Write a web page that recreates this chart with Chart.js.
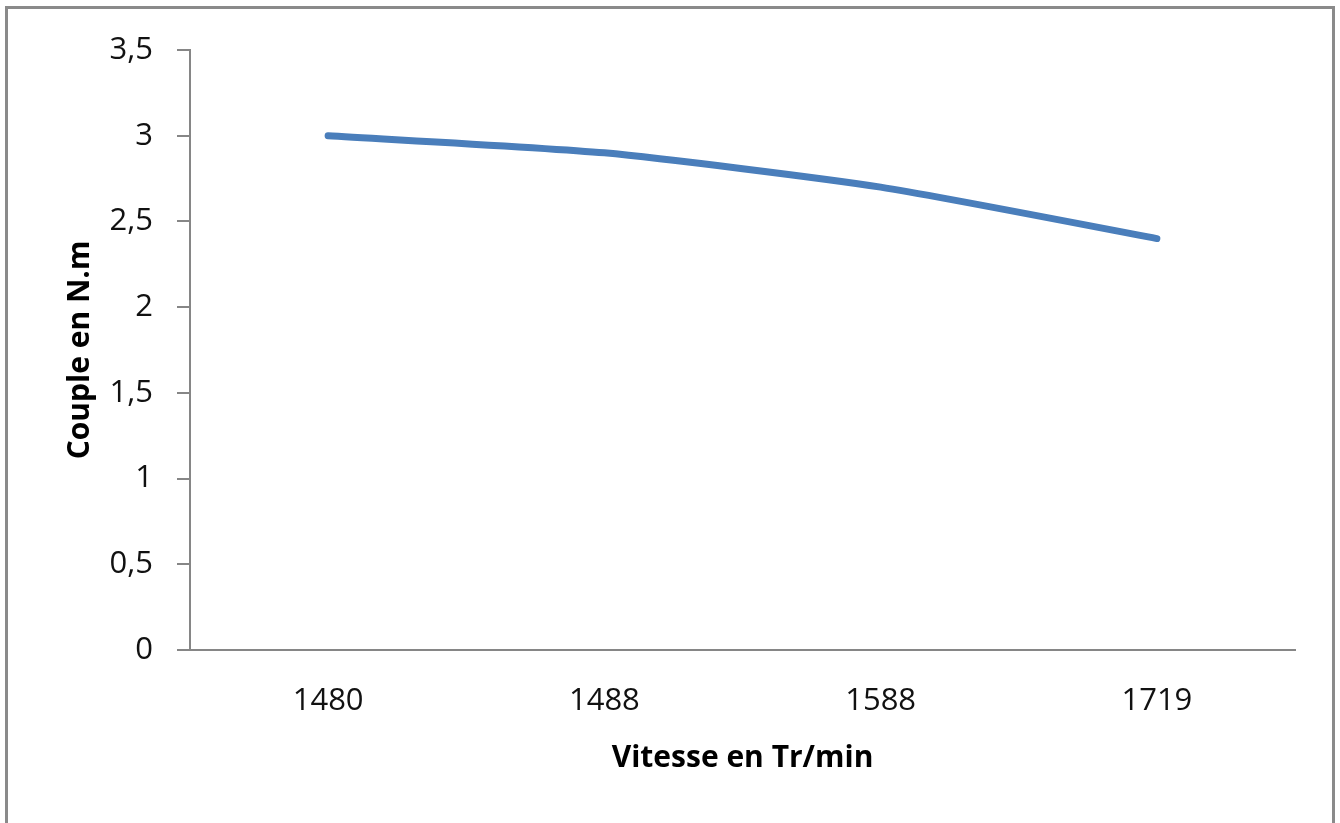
<!DOCTYPE html>
<html lang="fr">
<head>
    <meta charset="UTF-8">
    <title>Couple en fonction de la vitesse</title>
    <style>
        html, body { margin: 0; padding: 0; background: #fff; overflow: hidden; }
        .cadre {
            position: absolute; left: 5px; top: 6px; width: 1324px; height: 830px;
            border: 3px solid #8a8a8a; border-bottom: none; pointer-events: none;
        }
        #graphique { position: absolute; left: 0; top: 0; }
    </style>
</head>
<body>
    <div class="cadre"></div>
    <canvas id="graphique" width="1340" height="823"></canvas>

    <script src="https://cdn.jsdelivr.net/npm/chart.js"></script>
    <script>
        // donnees
        const vitesses = ['1480', '1488', '1588', '1719'];
        const couples = [3.0, 2.9, 2.7, 2.4];
        const graduationsY = [0, 0.5, 1, 1.5, 2, 2.5, 3, 3.5];

        const police = 'Open Sans';
        const gris = '#868686';

        const config = {
            type: 'line',
            data: {
                labels: vitesses,
                datasets: [{
                    label: 'Couple',
                    data: couples,
                    borderColor: '#4a7ebb',
                    borderWidth: 7,
                    borderCapStyle: 'round',
                    borderJoinStyle: 'round',
                    pointRadius: 0,
                    tension: 0.2,
                    fill: false
                }]
            },
            options: {
                responsive: false,
                animation: false,
                layout: { padding: { left: 0, top: 50, right: 45, bottom: 0 } },
                plugins: {
                    legend: { display: false },
                    tooltip: { enabled: false }
                },
                scales: {
                    x: {
                        offset: true,
                        grid: { display: true, drawOnChartArea: false, drawTicks: false },
                        border: { color: gris, width: 2 },
                        ticks: { color: '#111', padding: 33, font: { family: police, size: 31 } },
                        title: {
                            display: true,
                            text: 'Vitesse en Tr/min',
                            color: '#000',
                            font: { family: police, size: 30, weight: 'bold' },
                            padding: { top: 0, bottom: 47 }
                        },
                        afterFit: function (scale) { scale.height = 173; }
                    },
                    y: {
                        min: 0,
                        max: 3.5,
                        grid: { drawOnChartArea: false, drawTicks: true, tickLength: 13, color: gris, lineWidth: 2 },
                        border: { color: gris, width: 2 },
                        ticks: {
                            color: '#111',
                            padding: 24,
                            font: { family: police, size: 31 },
                            callback: function (v) { return String(v).replace('.', ','); }
                        },
                        afterBuildTicks: function (scale) {
                            scale.ticks = graduationsY.map(v => ({ value: v }));
                        },
                        title: {
                            display: true,
                            text: 'Couple en N.m',
                            color: '#000',
                            font: { family: police, size: 30, weight: 'bold' },
                            padding: { top: 62, bottom: 0 }
                        },
                        afterFit: function (scale) { scale.width = 190; }
                    }
                }
            }
        };

        const monGraphique = new Chart(document.getElementById('graphique'), config);
    </script>
</body>
</html>
